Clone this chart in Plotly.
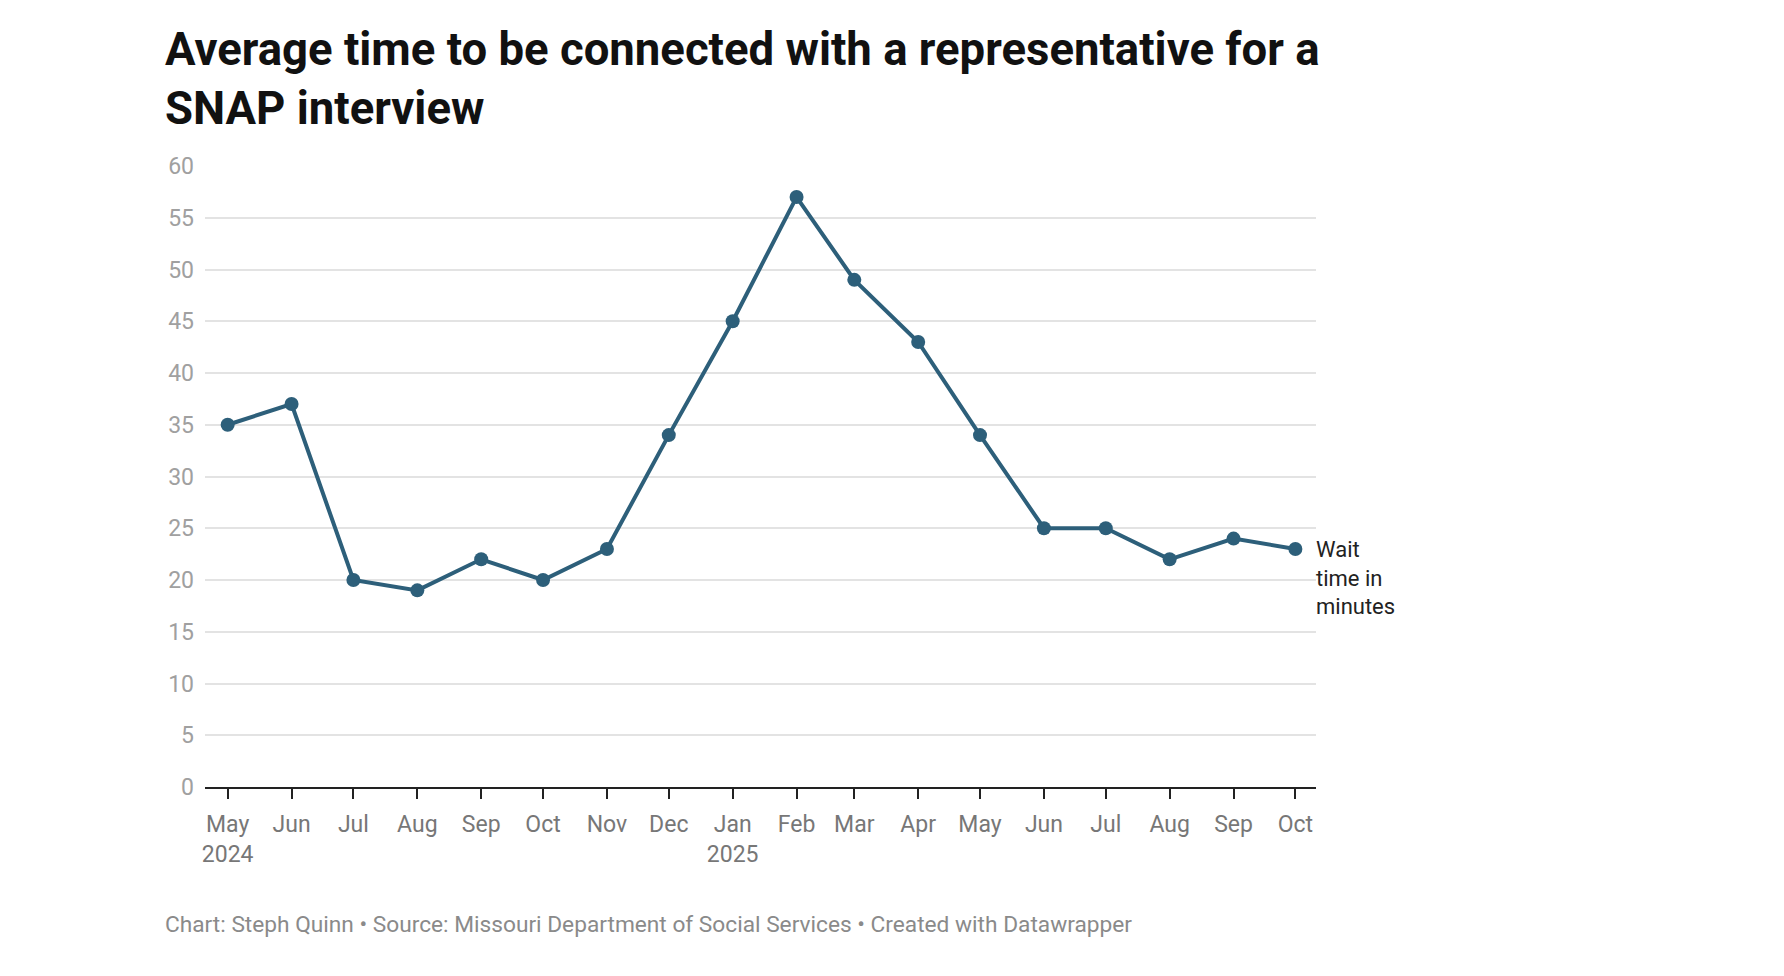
import plotly.graph_objects as go

months = ["2024-05-01", "2024-06-01", "2024-07-01", "2024-08-01", "2024-09-01", "2024-10-01",
          "2024-11-01", "2024-12-01", "2025-01-01", "2025-02-01", "2025-03-01", "2025-04-01",
          "2025-05-01", "2025-06-01", "2025-07-01", "2025-08-01", "2025-09-01", "2025-10-01"]
wait_minutes = [35, 37, 20, 19, 22, 20, 23, 34, 45, 57, 49, 43, 34, 25, 25, 22, 24, 23]
tick_labels = ["May<br>2024", "Jun", "Jul", "Aug", "Sep", "Oct", "Nov", "Dec", "Jan<br>2025",
               "Feb", "Mar", "Apr", "May", "Jun", "Jul", "Aug", "Sep", "Oct"]
y_ticks = [0, 5, 10, 15, 20, 25, 30, 35, 40, 45, 50, 55, 60]

title = "Average time to be connected with a representative for a<br>SNAP interview"
footer = "Chart: Steph Quinn • Source: Missouri Department of Social Services • Created with Datawrapper"
series_label = "Wait<br>time in<br>minutes"

W, H = 1784, 976
L, R, T, B = 197, 1308, 158, 779

fig = go.Figure()
fig.add_trace(go.Scatter(
    x=months, y=wait_minutes, mode="lines+markers",
    line=dict(color="#2d5f7a", width=4),
    marker=dict(color="#2d5f7a", size=14),
    hoverinfo="x+y", showlegend=False, cliponaxis=False,
))

fig.update_layout(
    width=W, height=H,
    paper_bgcolor="white", plot_bgcolor="white",
    margin=dict(l=L, r=W - R, t=T, b=H - B, autoexpand=False),
    font=dict(family="Roboto, Arial, sans-serif"),
    title=dict(text="<b>" + title + "</b>", xref="container", yref="container",
               x=157 / W, xanchor="left", y=1 - 57 / H, yanchor="top",
               font=dict(size=45.5, color="#111111", family="Roboto, Arial, sans-serif")),
    xaxis=dict(
        type="date",
        range=["2024-04-20", "2025-10-11"],
        tickvals=months, ticktext=tick_labels,
        ticks="outside", ticklen=10, tickwidth=1.5, tickcolor="#222222",
        showline=True, linecolor="#222222", linewidth=1.5,
        showgrid=False, zeroline=False,
        ticklabelstandoff=6,
        tickfont=dict(size=23, color="#777777"),
        fixedrange=True,
    ),
    yaxis=dict(
        range=[0, 60], tickvals=y_ticks,
        showgrid=True, gridcolor="#e3e3e3", gridwidth=1.5,
        zeroline=False, showline=False, ticks="",
        ticklabelstandoff=10,
        tickfont=dict(size=23, color="#a0a0a0"),
        fixedrange=True,
    ),
    annotations=[
        dict(text=series_label, xref="paper", yref="y", x=1, y=wait_minutes[-1],
             xanchor="left", yanchor="top", yshift=14, xshift=-2, align="left", showarrow=False,
             font=dict(size=22, color="#222222")),
        dict(text=footer, xref="paper", yref="paper", x=(155 - L) / (R - L),
             y=-137 / (B - T), xanchor="left", yanchor="middle", showarrow=False,
             font=dict(size=22.7, color="#8a8a8a")),
    ],
)

fig.write_html("out.html")
